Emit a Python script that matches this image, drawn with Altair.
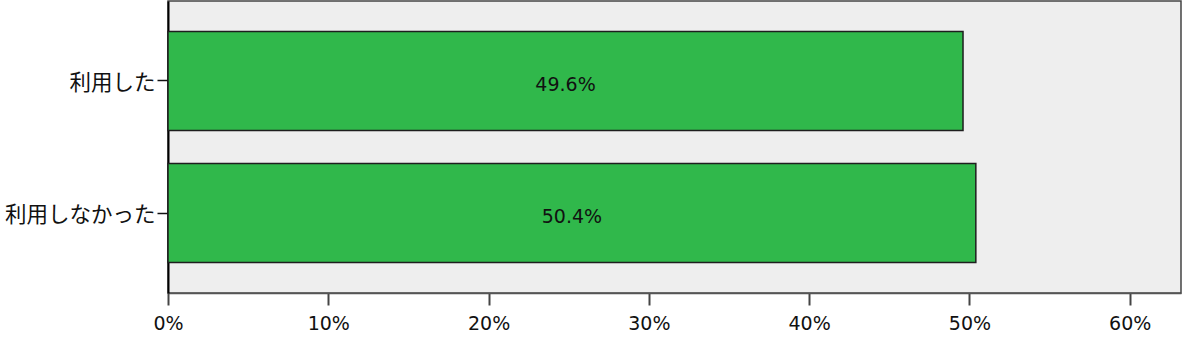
import altair as alt
import pandas as pd

categories = ["利用した", "利用しなかった"]
values = [0.496, 0.504]
labels = ["49.6%", "50.4%"]

df = pd.DataFrame({"cat": categories, "val": values, "label": labels})
df["mid"] = df["val"] / 2

y_enc = alt.Y("cat:N", sort=categories, title=None,
              scale=alt.Scale(paddingInner=0.25, paddingOuter=0.23),
              axis=alt.Axis(labelFont="Noto Sans CJK JP", labelFontSize=21.5, labelColor="#111",
                            tickSize=11, tickColor="#111", tickWidth=1.5, labelPadding=2,
                            labelOffset=3,
                            domainColor="#000", domainWidth=2))

bars = alt.Chart(df).mark_bar(color="#30b84b", stroke="#1e1e1e", strokeWidth=1.5).encode(
    x=alt.X("val:Q", title=None,
            scale=alt.Scale(domain=[0, 0.632], nice=False, zero=True),
            axis=alt.Axis(values=[0, 0.1, 0.2, 0.3, 0.4, 0.5, 0.6], format=".0%",
                          labelFont="DejaVu Sans", labelFontSize=19, labelColor="#111",
                          labelFlush=False,
                          tickSize=12, tickColor="#444", tickWidth=2, labelPadding=9,
                          domainColor="#555", domainWidth=1.5, grid=False)),
    y=y_enc,
)

text = alt.Chart(df).mark_text(font="DejaVu Sans", fontSize=19, color="#111", dy=4).encode(
    x=alt.X("mid:Q"),
    y=alt.Y("cat:N", sort=categories),
    text="label:N",
)

chart = alt.layer(bars, text).properties(
    width=1013, height=292,
    autosize=alt.AutoSizeParams(type="none"),
    padding={"left": 168, "top": 1, "right": 4, "bottom": 66},
    background="white",
).configure_view(
    fill="#eeeeee", stroke="#444444", strokeWidth=1.5
)

chart.save("out.html", embed_options={"renderer": "svg", "actions": False})
